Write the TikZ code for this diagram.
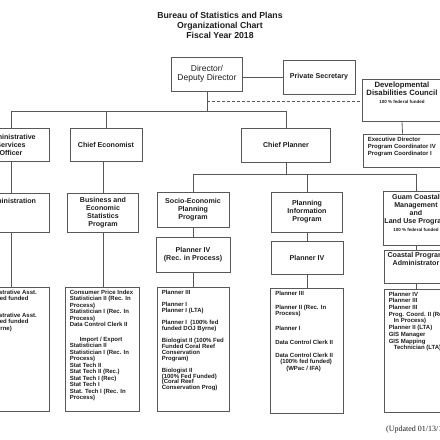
\documentclass[tikz,border=0pt]{standalone}
\usepackage{fontspec}
\setmainfont{Liberation Sans}
\newfontfamily\notefont{Liberation Serif}
\usepackage{tikz}
\usetikzlibrary{positioning, calc}
\definecolor{linegray}{HTML}{585858}
\definecolor{textgray}{HTML}{1E1E1E}

\begin{document}
\begin{tikzpicture}[x=1pt, y=-1pt,
    line/.style={draw=linegray, line width=0.8pt},
    unit/.style={line, fill=white, align=center, inner sep=1pt, text=textgray, font=\bfseries\fontsize{7.1}{8}\selectfont},
    heading/.style={align=center, inner sep=0pt, text=textgray, font=\bfseries\fontsize{7.1}{8}\selectfont},
    duties/.style={align=left, inner sep=0pt, text=textgray, font=\bfseries\fontsize{6}{6.3}\selectfont}
]
\useasboundingbox[fill=white] (0,0) rectangle (440,440);

% Title
\node[font=\bfseries\fontsize{8.7}{10}\selectfont, align=center, text=textgray] (title) at (220,25) {Bureau of Statistics and Plans\\Organizational Chart\\Fiscal Year 2018};

% Top level
\node[unit, minimum width=71pt, minimum height=34pt, font=\fontsize{8.5}{9}\selectfont] (director) at (207,74) {Director/\\Deputy Director};
\node[unit, minimum width=72pt, minimum height=34pt] (privsec) at (319,77) {Private Secretary};
\node[unit, minimum width=80pt, minimum height=42pt] (ddc) at (402,100) {};
\node[heading, below=3pt of ddc.north, font=\bfseries\fontsize{7.7}{8}\selectfont] (ddctitle) {Developmental\\Disabilities Council\\{\fontsize{4.5}{5}\selectfont 100 \% federal funded}};
\node[unit, minimum width=79pt, minimum height=33pt] (exec) at (402.5,150.5) {};
\node[duties, below right=3.8pt and 5pt of exec.north west, font=\bfseries\fontsize{6}{7}\selectfont] (exectext) {Executive Director\\Program Coordinator IV\\Program Coordinator I};

% Second level
\node[unit, minimum width=76pt, minimum height=33pt] (aso) at (11,144.5) {Administrative\\Services\\Officer};
\node[unit, minimum width=72pt, minimum height=33pt] (chiefecon) at (106,144.5) {Chief Economist};
\node[unit, minimum width=89pt, minimum height=34pt] (chiefplan) at (286,145) {Chief Planner};

% Programs
\node[unit, minimum width=76pt, minimum height=39pt] (admin) at (11,212.5) {};
\node[heading, below=5.5pt of admin.north] (admintitle) {Administration};
\node[unit, minimum width=71pt, minimum height=39pt] (besp) at (103,212.5) {Business and\\Economic\\Statistics\\Program};
\node[unit, minimum width=72pt, minimum height=35pt] (sepp) at (193,209.5) {Socio-Economic\\Planning\\Program};
\node[unit, minimum width=71pt, minimum height=40pt] (pip) at (307,212) {Planning\\Information\\Program};
\node[unit, minimum width=66pt, minimum height=54pt] (guam) at (416,218) {};
\node[heading, below=4pt of guam.north] (guamtitle) {Guam Coastal\\Management\\and\\Land Use Program\\{\fontsize{4.5}{5}\selectfont 100 \% federal funded}};

% Planners
\node[unit, minimum width=74pt, minimum height=35pt] (seppplanner) at (193,254.5) {Planner IV\\(Rec. in Process)};
\node[unit, minimum width=72pt, minimum height=33pt] (pipplanner) at (307,257.5) {Planner IV};
\node[unit, minimum width=64pt, minimum height=33pt] (coastadmin) at (416,266.5) {};
\node[heading, below=2.5pt of coastadmin.north] (coastadmintitle) {Coastal Program\\Administrator};

% Staff
\node[unit, minimum width=76pt, minimum height=124pt] (adminstaff) at (11,349) {};
\node[duties, below right=3pt and 6pt of adminstaff.north west, font=\bfseries\fontsize{6}{6.5}\selectfont] (adminlist) {Administrative Asst.\\(100\% fed funded\\CZMP)\\[3.5pt]Administrative Asst.\\(100\% fed funded\\DOJ Byrne)};
\node[unit, minimum width=74pt, minimum height=124pt] (bespstaff) at (102,349) {};
\node[duties, below right=3pt and 5pt of bespstaff.north west, font=\bfseries\fontsize{6}{6.5}\selectfont] (besplist) {Consumer Price Index\\Statistician II (Rec. In\\Process)\\Statistician I (Rec. In\\Process)\\Data Control Clerk II\\[8pt]\hspace*{10pt}Import / Export\\Statistician II\\Statistician I (Rec. In\\Process)\\Stat Tech II\\Stat Tech II (Rec.)\\Stat Tech I (Rec)\\Stat Tech I\\Stat. Tech I (Rec. In\\Process)};
\node[unit, minimum width=72pt, minimum height=124pt] (seppstaff) at (193,349) {};
\node[duties, below right=3pt and 5pt of seppstaff.north west, font=\bfseries\fontsize{6}{5.8}\selectfont] (sepplist) {Planner III\\[6.5pt]Planner I\\Planner I (LTA)\\[6.5pt]Planner I\ \ (100\% fed\\funded DOJ Byrne)\\[6.5pt]Biologist II (100\% Fed\\Funded Coral Reef\\Conservation\\Program)\\[6.5pt]Biologist II\\(100\% Fed Funded)\\(Coral Reef\\Conservation Prog)};
\node[unit, minimum width=73pt, minimum height=125pt] (pipstaff) at (307,350.5) {};
\node[duties, below right=3pt and 5pt of pipstaff.north west] (piplist) {Planner III\\[8pt]Planner II (Rec. In\\Process)\\[8pt]Planner I\\[8pt]Data Control Clerk II\\[7pt]Data Control Clerk II\\\hspace*{5pt}(100\% fed funded)\\\hspace*{11pt}(WPac / IFA)};
\node[unit, minimum width=64pt, minimum height=123pt] (coaststaff) at (416,350.5) {};
\node[duties, below right=3pt and 5pt of coaststaff.north west, font=\bfseries\fontsize{6}{6.7}\selectfont] (coastlist) {Planner IV\\Planner III\\Planner III\\Prog. Coord. II (Rec.\\\hspace*{5pt}In Process)\\Planner II (LTA)\\GIS Manager\\GIS Mapping\\\hspace*{5pt}Technician (LTA)};

\node[anchor=west, inner sep=0pt, text=textgray, font=\notefont\fontsize{8}{9}\selectfont] (updated) at (386,430) {(Updated 01/13/18)};

% Connections
\draw[line] (privsec.west) -- (privsec.west -| director.east);
\draw[line] (director.south) -- ++(0,20) coordinate (hub);
\draw[line, dash pattern=on 3pt off 2pt] ($(director.south)!0.5!(hub)$) coordinate (dashstart) -- (dashstart -| ddc.west);
\draw[line] (ddc.south) -- (exec.north);
\draw[line] (aso.north) |- (hub) -| (chiefplan.north);
\draw[line] (chiefecon.north) -- (chiefecon.north |- hub);

\draw[line] (aso.south) -- (admin.north);
\draw[line] (admin.south) -- (adminstaff.north);
\draw[line] (besp.north) -- (besp.north |- chiefecon.south);
\draw[line] (besp.south) -- (besp.south |- bespstaff.north);

\draw[line] (chiefplan.south) -- ++(0,11.5) coordinate (planhub);
\draw[line] (sepp.north) |- (planhub) -| (guam.north);
\draw[line] (pip.north) -- (pip.north |- planhub);
\draw[line] (sepp.south) -- (seppplanner.north);
\draw[line] (seppplanner.south) -- (seppstaff.north);
\draw[line] (pip.south) -- (pipplanner.north);
\draw[line] (pipplanner.south) -- (pipstaff.north);
\draw[line] (guam.south) -- (coastadmin.north);
\draw[line] (coastadmin.south) -- (coaststaff.north);

\end{tikzpicture}
\end{document}
